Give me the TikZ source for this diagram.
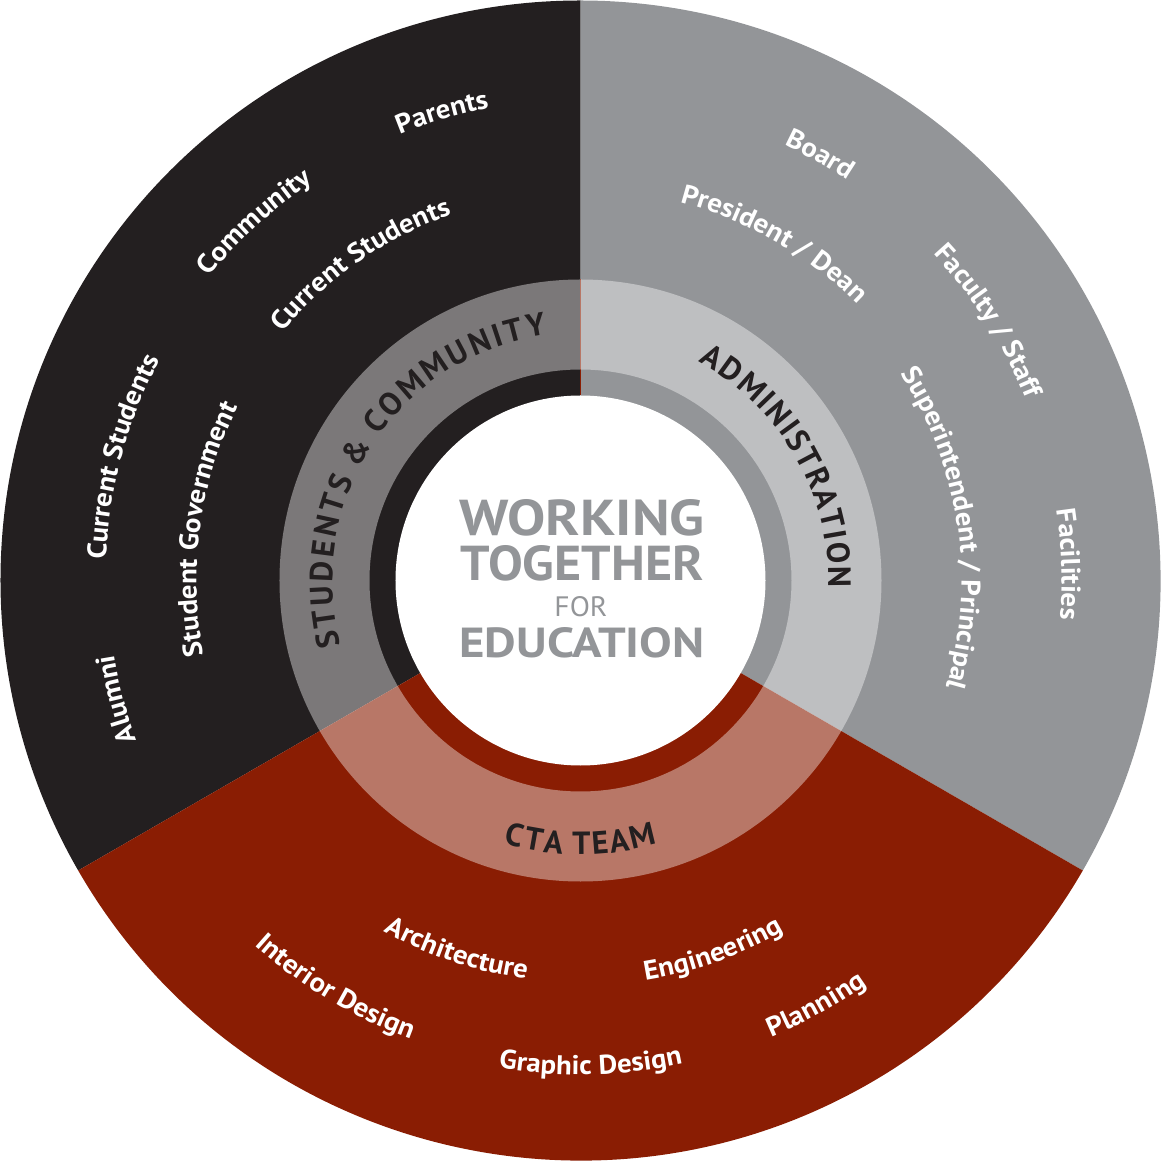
\documentclass[tikz,border=0pt]{standalone}
\usepackage{fontspec}
\setmainfont{PT Sans}
\newfontfamily\labfont[FakeStretch=1.07]{PT Sans}
\newfontfamily\ringfont{PT Sans}
\usetikzlibrary{decorations.text}
\definecolor{cblack}{HTML}{231F20}
\definecolor{cgray}{HTML}{939598}
\definecolor{cred}{HTML}{8A1D03}
\definecolor{ctext}{HTML}{939598}
\tikzset{
  cwlab/.style={decorate, decoration={text along path, text align=center, text color=white,
     text={|\labfont\bfseries\fontsize{27}{30}\selectfont|#1}}},
  ringlab/.style={decorate, decoration={text along path, text align=center, text color=cblack,
     text={|\ringfont\bfseries\fontsize{32}{36}\selectfont|#1}}},
  centretext/.style={text=ctext, inner sep=0pt, outer sep=0pt}
}
\newcommand\cwlabel[3]{\path[cwlab={#3}] ({#1+70}:#2) arc[start angle={#1+70}, end angle={#1-70}, radius=#2];}
\newcommand\ccwlabel[3]{\path[cwlab={#3}] ({#1-70}:#2) arc[start angle={#1-70}, end angle={#1+70}, radius=#2];}
\begin{document}
\begin{tikzpicture}[x=1pt,y=1pt]
\useasboundingbox (-580.5,-580.5) rectangle (580.5,580.5);
% sectors
\fill[cblack] (0,0) -- (90:580) arc[start angle=90,end angle=210,radius=580] -- cycle;
\fill[cgray] (0,0) -- (-30:580) arc[start angle=-30,end angle=90,radius=580] -- cycle;
\fill[cred] (0,0) -- (210:580) arc[start angle=210,end angle=330,radius=580] -- cycle;
\draw[cred, line width=0.9pt] (90:185) -- (90:301);
% band
\fill[white, fill opacity=0.4, even odd rule] (0,0) circle[radius=301] (0,0) circle[radius=211];
% centre
\fill[white] (0,0) circle[radius=185];
\node[centretext] (w1) at (1.5,63) {\resizebox{245pt}{36pt}{\bfseries WORKING}};
\node[centretext] (w2) at (1.5,17) {\resizebox{243pt}{35pt}{\bfseries TOGETHER}};
\node[centretext] (w3) at (0.5,-26) {\resizebox{53pt}{20pt}{FOR}};
\node[centretext] (w4) at (1.5,-62) {\resizebox{245pt}{30pt}{\bfseries EDUCATION}};
% ring labels
\path[ringlab={{S\kern3pt}{T\kern3pt}{U\kern3pt}{D\kern3pt}{E\kern3pt}{N\kern3pt}{T\kern3pt}{S\kern4pt} {\&\kern4pt} {C\kern3pt}{O\kern3pt}{M\kern3pt}{M\kern3pt}{U\kern3pt}{N\kern3pt}{I\kern3pt}{T\kern3pt}{Y}}]
  (216.5:248) arc[start angle=216.5, end angle=76.5, radius=248];
\path[ringlab={{A\kern2pt}{D\kern2pt}{M\kern2pt}{I\kern2pt}{N\kern2pt}{I\kern2pt}{S\kern2pt}{T\kern2pt}{R\kern2pt}{A\kern2pt}{T\kern2pt}{I\kern2pt}{O\kern2pt}{N}}]
  (100:248) arc[start angle=100, end angle=-40, radius=248];
\path[ringlab={{C\kern2pt}{T\kern2pt}{A\kern2pt} {T\kern2pt}{E\kern2pt}{A\kern2pt}{M}}]
  (200:274) arc[start angle=200, end angle=340, radius=274];
% black sector
\cwlabel{106.5}{481}{Parents}
\cwlabel{132.3}{480}{Community}
\cwlabel{124.8}{388}{Current Students}
\cwlabel{164.9}{475}{Current Students}
\cwlabel{172.2}{384}{Student Government}
\cwlabel{194.4}{472}{Alumni}
% gray sector
\cwlabel{60.6}{481}{Board}
\cwlabel{60.1}{391}{President / Dean}
\cwlabel{32.5}{481}{Faculty / Staff}
\cwlabel{8.3}{381}{Superintendent / Principal}
\cwlabel{1.9}{481}{Facilities}
% red sector
\ccwlabel{251.5}{402}{Architecture}
\ccwlabel{239}{489}{Interior Design}
\ccwlabel{271.2}{494}{Graphic Design}
\ccwlabel{289.7}{405}{Engineering}
\ccwlabel{299}{495}{Planning}
\end{tikzpicture}
\end{document}
